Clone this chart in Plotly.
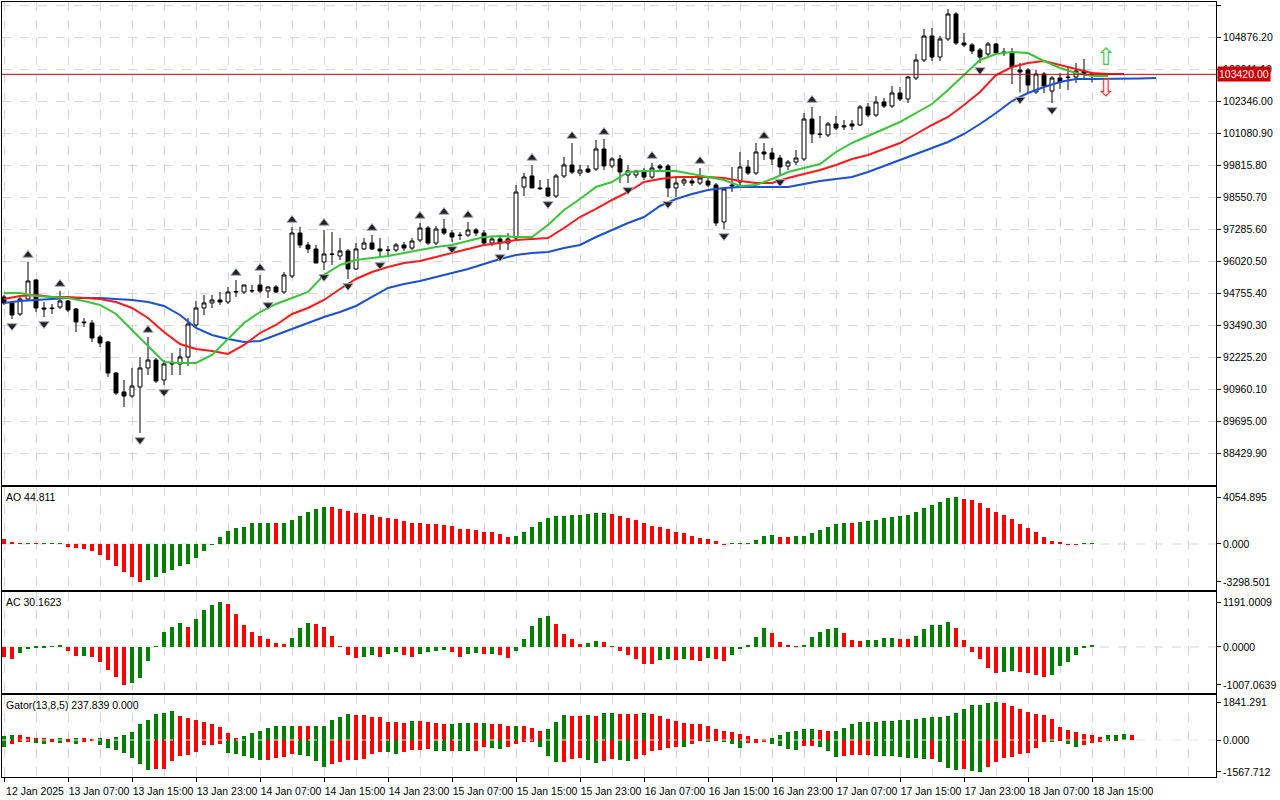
import pandas as pd
import plotly.graph_objects as go

# ---------------- data (BTCUSD H1) ----------------
start_time = "2025-01-12 23:00"

open_ = [94617, 94380, 93944, 94538, 95289, 94182, 94182, 94222, 94459, 94143,
         93628, 93588, 93036, 92838, 91612, 90861, 90703, 91059, 91810, 92126,
         91336, 91968, 91968, 92245, 93509, 94182, 94380, 94498, 94420, 94815,
         94815, 94854, 95091, 94854, 95012, 94815, 95447, 97147, 96673, 96515,
         96001, 96317, 96238, 96436, 95724, 96515, 96752, 96515, 96475, 96475,
         96673, 96554, 96871, 97345, 96752, 97305, 97147, 97068, 97068, 97266,
         97147, 96752, 96910, 96752, 96950, 98966, 99401, 98927, 98927, 98610,
         99401, 99836, 99519, 99677, 99677, 100468, 99796, 100073, 99440, 99440,
         99559, 99361, 99796, 99796, 98927, 99124, 99203, 99124, 99203, 99045,
         97583, 99045, 99163, 99757, 99519, 100349, 100310, 100112, 99796, 99954,
         100073, 101654, 101061, 101021, 101457, 101338, 101457, 101417, 102129, 101812,
         102326, 102168, 102682, 102445, 103275, 103987, 104935, 104105, 104817, 105805,
         104659, 104579, 104382, 104224, 104619, 104303, 104263, 103592, 103592, 102722,
         103433, 102761, 103275, 103315, 103315, 103552, 103450]
high_ = [94696, 94459, 94617, 96001, 95329, 94420, 94340, 94854, 94498, 94182,
         93786, 93707, 93115, 92877, 91652, 91336, 91810, 92245, 93036, 92205,
         92126, 92403, 92600, 93787, 94459, 94696, 94696, 94815, 95012, 95289,
         95091, 95091, 95487, 95050, 95091, 95605, 97385, 97385, 96792, 96673,
         97266, 97187, 96950, 96515, 96752, 96950, 97068, 96950, 96633, 96752,
         96792, 96950, 97543, 97424, 97424, 97701, 97266, 97187, 97583, 97345,
         97266, 97029, 96989, 97147, 99045, 99519, 99836, 99243, 99282, 99480,
         100152, 100705, 99836, 99836, 100824, 100863, 100152, 100231, 99836, 99638,
         99717, 99915, 99875, 99875, 99322, 99361, 99322, 99717, 99322, 99124,
         98887, 99757, 100349, 100033, 100705, 100705, 100507, 100231, 100033, 100428,
         101891, 102129, 101773, 101536, 101773, 101615, 101615, 102208, 102287, 102563,
         102484, 102959, 102919, 103354, 104224, 105212, 105252, 104935, 106003, 105884,
         105054, 104659, 104461, 104698, 104659, 104461, 104461, 103868, 103670, 103592,
         103512, 103354, 103473, 103710, 103868, 104026, 103520]
low_ = [94301, 93747, 93865, 94498, 94024, 93826, 93944, 94143, 94024, 93233,
        93430, 92838, 92640, 91454, 90743, 90268, 90624, 89240, 91533, 91217,
        91138, 91533, 91533, 91889, 93430, 93905, 94182, 94301, 94340, 94617,
        94735, 94775, 94775, 94577, 94775, 94735, 95368, 96554, 96357, 95961,
        95685, 95882, 96080, 95329, 95685, 96475, 96475, 96159, 96277, 96396,
        96436, 96475, 96792, 96673, 96673, 97068, 96792, 96871, 96989, 97029,
        96673, 96633, 96475, 96475, 96871, 98610, 98927, 98847, 98571, 98531,
        99322, 99480, 99401, 99519, 99598, 99638, 99717, 99124, 99124, 99322,
        99243, 99282, 99638, 98571, 98571, 99005, 99005, 99045, 98966, 97424,
        97305, 98768, 99045, 99440, 99440, 100033, 99836, 99440, 99638, 99836,
        99994, 100705, 100903, 100942, 101219, 101219, 101219, 101377, 101733, 101733,
        102089, 102089, 102366, 102287, 103196, 103908, 103947, 103947, 104738, 104579,
        104500, 104224, 103868, 104145, 104184, 104145, 103038, 102700, 102682, 102643,
        102682, 102287, 102840, 102801, 103077, 103196, 103100]
close_ = [94380, 93905, 94538, 95250, 94182, 94143, 94160, 94459, 94103, 93628,
          93600, 92996, 92798, 91612, 90822, 90703, 91098, 91810, 92126, 91296,
          91968, 92000, 92245, 93549, 94182, 94380, 94498, 94420, 94815, 94830,
          95091, 94870, 94854, 95012, 94815, 95487, 97147, 96673, 96515, 95961,
          96317, 96300, 96436, 95724, 96515, 96752, 96515, 96436, 96460, 96673,
          96554, 96831, 97345, 96752, 97305, 97147, 96989, 97050, 97266, 97147,
          96752, 96910, 96752, 96910, 98768, 99361, 98927, 98900, 98610, 99401,
          99836, 99559, 99638, 99559, 100468, 99796, 100073, 99559, 99598, 99598,
          99361, 99717, 99717, 98927, 99124, 99243, 99124, 99322, 99045, 97543,
          98887, 99010, 99757, 99519, 100349, 100270, 100073, 99757, 99954, 100112,
          101654, 101061, 101040, 101457, 101298, 101377, 101377, 102129, 101812, 102326,
          102168, 102682, 102445, 103315, 103987, 104935, 104105, 104817, 105805, 104659,
          104579, 104342, 104105, 104619, 104263, 104270, 103710, 103512, 102998, 103433,
          102959, 103275, 103117, 103290, 103552, 103450, 103420]

# Alligator lines, values every 2 bars from the first bar
jaw_blue = [94380, 94459, 94499, 94538, 94578, 94578, 94578, 94538, 94499, 94420,
            94262, 93906, 93392, 93115, 92957, 92838, 92878, 93115, 93352, 93590,
            93827, 94024, 94262, 94617, 94973, 95131, 95250, 95408, 95566, 95724,
            95922, 96120, 96278, 96357, 96396, 96555, 96673, 96989, 97266, 97543,
            97780, 98215, 98492, 98689, 98848, 98927, 98966, 98966, 98966, 98966,
            99085, 99203, 99282, 99361, 99559, 99796, 100034, 100271, 100508, 100745,
            101061, 101457, 101891, 102366, 102682, 102919, 103117, 103236, 103236, 103236,
            103236, 103255, 103275]
teeth_red = [94538, 94657, 94696, 94617, 94617, 94578, 94538, 94420, 94183, 93787,
             93234, 92759, 92562, 92483, 92364, 92720, 93194, 93510, 93945, 94183,
             94499, 94934, 95329, 95606, 95803, 95962, 96041, 96199, 96357, 96515,
             96673, 96752, 96871, 96910, 96950, 97345, 97780, 98096, 98452, 98768,
             99164, 99282, 99361, 99361, 99361, 99322, 99203, 99124, 99124, 99322,
             99480, 99638, 99836, 100073, 100231, 100468, 100705, 101061, 101417, 101733,
             102208, 102722, 103394, 103710, 103868, 103947, 103789, 103631, 103473, 103433,
             103433]
lips_green = [94776, 94776, 94657, 94617, 94578, 94459, 94301, 93945, 93313, 92641,
              92048, 92008, 92008, 92324, 92957, 93590, 94024, 94341, 94578, 94815,
              95487, 95882, 96080, 96159, 96238, 96357, 96475, 96594, 96673, 96831,
              96989, 97029, 96989, 96989, 97464, 98057, 98492, 98966, 99164, 99559,
              99599, 99599, 99599, 99480, 99361, 99243, 99006, 99045, 99282, 99559,
              99717, 99875, 100350, 100705, 100982, 101259, 101536, 101891, 102247, 102801,
              103394, 103987, 104224, 104303, 104263, 103947, 103670, 103473, 103354, 103354]

# Fractals (bar numbers)
fractal_up = [3, 7, 18, 29, 32, 36, 40, 46, 52, 55, 58, 66, 71, 75, 81, 87, 95, 101, 118]
fractal_down = [1, 5, 17, 20, 33, 40, 43, 47, 56, 62, 68, 78, 83, 90, 97, 122, 127, 131]

last_price = 103420.00
signal_bar = 137.75
signal_up_price = 104105
signal_down_price = 102880

main_ticks = [106141.30, 104876.20, 103611.10, 102346.00, 101080.90, 99815.80, 98550.70,
              97285.60, 96020.50, 94755.40, 93490.30, 92225.20, 90960.10, 89695.00, 88429.90]

# Awesome Oscillator
ao = [435, 145, 20, 25, 15, 30, 45, 87, -232, -319, -435, -580, -957, -1392, -1885, -2407,
      -2842, -3298.501, -3132, -2842, -2494, -2233, -1885, -1740, -1189, -580, -58, 638,
      1131, 1421, 1508, 1827, 1830, 1835, 1820, 1850, 2117, 2436, 2813, 3045, 3219, 3190,
      3016, 2900, 2697, 2610, 2523, 2349, 2233, 2175, 2030, 1827, 1826, 1740, 1739, 1682,
      1566, 1334, 1305, 1247, 1073, 1015, 870, 638, 696, 1044, 1479, 1914, 2262, 2436,
      2440, 2494, 2500, 2581, 2697, 2700, 2610, 2436, 2300, 2088, 1798, 1537, 1479, 1305,
      1015, 928, 667, 493, 406, 261, -10, 5, 58, 87, 348, 696, 783, 609, 600, 696, 700,
      957, 1218, 1479, 1740, 1827, 1820, 1943, 2001, 2088, 2262, 2378, 2465, 2523, 2784,
      3132, 3393, 3654, 3973, 4054.895, 3950, 3828, 3567, 3132, 2784, 2523, 2175, 1740,
      1392, 1044, 609, 261, 174, -10, -20, 30, 44.811]
ao_ticks = [4054.895, 0.0, -3298.501]
ao_ticktext = ["4054.895", "0.000", "-3298.501"]

# Accelerator Oscillator
ac = [-264, -330, -160, -60, -30, -10, 20, 55, -110, -240, -235, -255, -405, -616, -800,
      -1007.0639, -950, -820, -380, 25, 390, 540, 645, 540, 750, 990, 1120, 1191.0009, 1150,
      880, 590, 405, 300, 200, 95, 90, 250, 490, 630, 620, 540, 300, 5, -220, -290, -270,
      -220, -255, -180, -140, -220, -275, -195, -140, -115, -70, -140, -255, -195, -150,
      -195, -190, -220, -280, -115, 220, 565, 765, 830, 620, 350, 220, 90, 95, 170, 135,
      5, -115, -220, -325, -440, -450, -350, -325, -350, -325, -350, -380, -300, -310,
      -380, -220, -60, 35, 265, 500, 380, 140, 35, 5, 60, 275, 400, 485, 510, 380, 195,
      170, 175, 195, 245, 250, 220, 215, 300, 485, 590, 595, 670, 510, 195, -120, -325,
      -570, -700, -650, -645, -675, -700, -730, -785, -730, -510, -390, -220, -5, 30.1623]
ac_ticks = [1191.0009, 0.0, -1007.0639]
ac_ticktext = ["1191.0009", "0.0000", "-1007.0639"]

# Gator oscillator
gator_up = [212, 245, 245, 130, 82, 50, 10, 50, 10, 82, 50, 40, 50, 45, 130, 245, 408, 766,
            978, 1271, 1337, 1402, 1174, 1076, 962, 897, 799, 636, 342, 60, 196, 326, 440,
            570, 685, 690, 695, 690, 688, 695, 700, 962, 1125, 1255, 1222, 1220, 1125, 1120,
            864, 860, 855, 929, 925, 864, 815, 799, 800, 848, 850, 815, 816, 766, 765, 668,
            670, 665, 587, 424, 522, 864, 1222, 1190, 1157, 1222, 1157, 1304, 1305, 1287,
            1255, 1250, 1320, 1255, 1157, 1027, 929, 831, 782, 780, 685, 538, 440, 391, 293,
            196, 49, 10, 82, 245, 391, 440, 538, 545, 489, 440, 445, 587, 782, 864, 870, 875,
            913, 929, 962, 965, 1027, 1076, 1125, 1130, 1174, 1304, 1516, 1712, 1715, 1809,
            1841.291, 1809, 1663, 1516, 1369, 1271, 1222, 1027, 636, 489, 391, 293, 237.839,
            147, 245, 250, 293, 237]
gator_down = [-326, -212, -114, -50, -130, -180, -50, -130, -50, -196, -50, -45, -245, -375,
              -490, -620, -865, -1190, -1467, -1418, -1400, -1027, -766, -733, -570, -245,
              -240, -212, -620, -700, -766, -864, -978, -975, -897, -831, -700, -733, -766,
              -1027, -1304, -1190, -1092, -978, -975, -929, -668, -570, -575, -668, -570,
              -489, -485, -440, -522, -538, -520, -522, -525, -520, -359, -408, -440, -326,
              -196, -82, -80, -326, -766, -1060, -1055, -945, -864, -978, -1141, -1027, -945,
              -994, -1027, -929, -733, -538, -489, -391, -326, -330, -180, -49, -60, -40, -50,
              -212, -375, -163, -130, -120, -196, -277, -440, -489, -277, -270, -326, -522,
              -815, -766, -733, -730, -725, -766, -770, -782, -815, -864, -897, -929, -925,
              -1060, -1353, -1483, -1418, -1500, -1567.712, -1320, -1076, -864, -815, -685,
              -620, -375, -82, -90, -49, -212, -326, -261, -163, -82, -40, -10]
gator_ticks = [1841.291, 0.0, -1567.712]
gator_ticktext = ["1841.291", "0.000", "-1567.712"]

# ---------------- figure ----------------
t0 = pd.Timestamp(start_time)
H = pd.Timedelta(hours=1)
times = [t0 + i * H for i in range(len(close_))]

GREEN = "#008000"
RED = "#ff0000"
GRID = "#d6d6d6"
FONT = "Liberation Sans"
FS = 10.5


def updown_colors(vals, first):
    cols = [first]
    for i in range(1, len(vals)):
        cols.append(GREEN if vals[i] > vals[i - 1] else RED)
    return cols


def abs_colors(vals, first):
    cols = [first]
    for i in range(1, len(vals)):
        cols.append(GREEN if abs(vals[i]) > abs(vals[i - 1]) else RED)
    return cols


fig = go.Figure()

fig.add_trace(go.Candlestick(
    x=times, open=open_, high=high_, low=low_, close=close_,
    xaxis="x", yaxis="y", whiskerwidth=0, showlegend=False, hoverinfo="skip",
    increasing=dict(line=dict(color="black", width=1), fillcolor="white"),
    decreasing=dict(line=dict(color="black", width=1), fillcolor="black"),
))

for vals, color in [(jaw_blue, "#1a4fd6"), (teeth_red, "#ff1a1a"), (lips_green, "#3ac43a")]:
    fig.add_trace(go.Scatter(
        x=[t0 + 2 * k * H for k in range(len(vals))], y=vals, mode="lines",
        line=dict(color=color, width=2), xaxis="x", yaxis="y",
        showlegend=False, hoverinfo="skip"))

px_price = (106141.30 - 88429.90) / 448.0   # price per pixel on main panel
fmarker = dict(size=9, color="#202020", line=dict(color="#a4acbc", width=1))
fig.add_trace(go.Scatter(
    x=[times[i] for i in fractal_up], y=[high_[i] + 7 * px_price for i in fractal_up],
    mode="markers", marker=dict(fmarker, symbol="triangle-up"),
    xaxis="x", yaxis="y", showlegend=False, hoverinfo="skip", cliponaxis=False))
fig.add_trace(go.Scatter(
    x=[times[i] for i in fractal_down], y=[low_[i] - 7 * px_price for i in fractal_down],
    mode="markers", marker=dict(fmarker, symbol="triangle-down"),
    xaxis="x", yaxis="y", showlegend=False, hoverinfo="skip"))

bw = 0.5 * 3600 * 1000
fig.add_trace(go.Bar(x=times, y=ao, marker=dict(color=updown_colors(ao, RED), line=dict(width=0)),
                     width=bw, xaxis="x2", yaxis="y2", showlegend=False, hoverinfo="skip"))
fig.add_trace(go.Bar(x=times, y=ac, marker=dict(color=updown_colors(ac, RED), line=dict(width=0)),
                     width=bw, xaxis="x3", yaxis="y3", showlegend=False, hoverinfo="skip"))
fig.add_trace(go.Bar(x=[t0 + i * H for i in range(len(gator_up))], y=gator_up,
                     marker=dict(color=abs_colors(gator_up, GREEN), line=dict(width=0)),
                     width=bw, xaxis="x4", yaxis="y4", showlegend=False, hoverinfo="skip"))
fig.add_trace(go.Bar(x=[t0 + i * H for i in range(len(gator_down))], y=gator_down,
                     marker=dict(color=abs_colors(gator_down, GREEN), line=dict(width=0)),
                     width=bw, xaxis="x4", yaxis="y4", showlegend=False, hoverinfo="skip"))

# x axes
tick_times = times[::8]
tick_text = [t0.strftime("%d %b %Y")] + [f"{t.day} {t:%b %H:%M}" for t in tick_times[1:]]
xr = [t0 - 0.25 * H, t0 + 151.5 * H]
xcommon = dict(type="date", range=xr, showline=True, mirror=True, linecolor="black", linewidth=1,
               showgrid=True, gridcolor=GRID, griddash="dash", gridwidth=1,
               tickmode="array", tickvals=tick_times, zeroline=False,
               minor=dict(tickmode="linear", tick0=t0, dtick=4 * 3600 * 1000, showgrid=True,
                          gridcolor=GRID, griddash="dash", gridwidth=1),
               rangeslider=dict(visible=False), fixedrange=True)

yfont = dict(family=FONT, size=FS, color="black")
ycommon = dict(side="right", showline=True, mirror=True, linecolor="black", linewidth=1,
               ticks="outside", ticklen=4, tickcolor="black", tickfont=yfont, zeroline=False,
               tickmode="array", fixedrange=True)

layout = dict(
    width=1280, height=800, paper_bgcolor="white", plot_bgcolor="white",
    margin=dict(l=2, r=64, t=2, b=23), bargap=0, barmode="overlay",
    font=dict(family=FONT, size=FS, color="black"),
    xaxis=dict(xcommon, anchor="y", showticklabels=False, ticks=""),
    xaxis2=dict(xcommon, anchor="y2", matches="x", showticklabels=False, ticks=""),
    xaxis3=dict(xcommon, anchor="y3", matches="x", showticklabels=False, ticks=""),
    xaxis4=dict(xcommon, anchor="y4", matches="x", showticklabels=True, ticktext=tick_text,
                ticks="outside", ticklen=4, tickcolor="black", tickfont=yfont,
                ticklabelshift=31, ticklabelstandoff=0),
    yaxis=dict(ycommon, domain=[0.3768, 1.0], anchor="x", range=[87184.7, 106279.6],
               tickvals=main_ticks, ticktext=[f"{v:.2f}" for v in main_ticks],
               showgrid=True, gridcolor=GRID, griddash="dash"),
    yaxis2=dict(ycommon, domain=[0.2413, 0.3742], anchor="x2", range=[-4002, 4959],
                tickvals=ao_ticks, ticktext=ao_ticktext, showgrid=False),
    yaxis3=dict(ycommon, domain=[0.1084, 0.2387], anchor="x3", range=[-1219, 1457],
                tickvals=ac_ticks, ticktext=ac_ticktext, showgrid=False),
    yaxis4=dict(ycommon, domain=[0.0, 0.1058], anchor="x4", range=[-1813, 2205],
                tickvals=gator_ticks, ticktext=gator_ticktext, showgrid=False),
)
fig.update_layout(**layout)

# zero lines of the oscillators
for xa, ya, layer in [("x2", "y2", "below"), ("x3", "y3", "below"), ("x4", "y4", "above")]:
    fig.add_shape(type="line", xref=f"{xa} domain", yref=ya, x0=0, x1=1, y0=0, y1=0,
                  line=dict(color=GRID if layer == "below" else "#e8e8e8", width=1, dash="dash"),
                  layer=layer)

# last price line + label
fig.add_shape(type="line", xref="x domain", yref="y", x0=0, x1=1, y0=last_price, y1=last_price,
              line=dict(color="#d00000", width=1))
fig.add_annotation(xref="paper", yref="y", x=1.0, y=last_price, xanchor="left", yanchor="middle",
                   xshift=1, text=f"{last_price:.2f}", showarrow=False,
                   bgcolor="#c80000", font=dict(family=FONT, size=FS, color="white"), borderpad=1)

# signal arrows
sig_x = t0 + signal_bar * H
fig.add_annotation(x=sig_x, y=signal_up_price, xref="x", yref="y", text="⇧", showarrow=False,
                   font=dict(family="DejaVu Sans", size=24, color="#44cc44"))
fig.add_annotation(x=sig_x, y=signal_down_price, xref="x", yref="y", text="⇩", showarrow=False,
                   font=dict(family="DejaVu Sans", size=24, color="#ff3333"))

# panel titles
for ya, txt in [("y2", "AO 44.811"), ("y3", "AC 30.1623"), ("y4", "Gator(13,8,5) 237.839 0.000")]:
    fig.add_annotation(xref="paper", yref=f"{ya} domain", x=0.002, y=0.98, xanchor="left",
                       yanchor="top", text=txt, showarrow=False,
                       font=dict(family=FONT, size=FS, color="black"))

fig.write_html("out.html", config={"displayModeBar": False},
               post_script="document.body.style.margin='0';document.body.style.overflow='hidden';")
